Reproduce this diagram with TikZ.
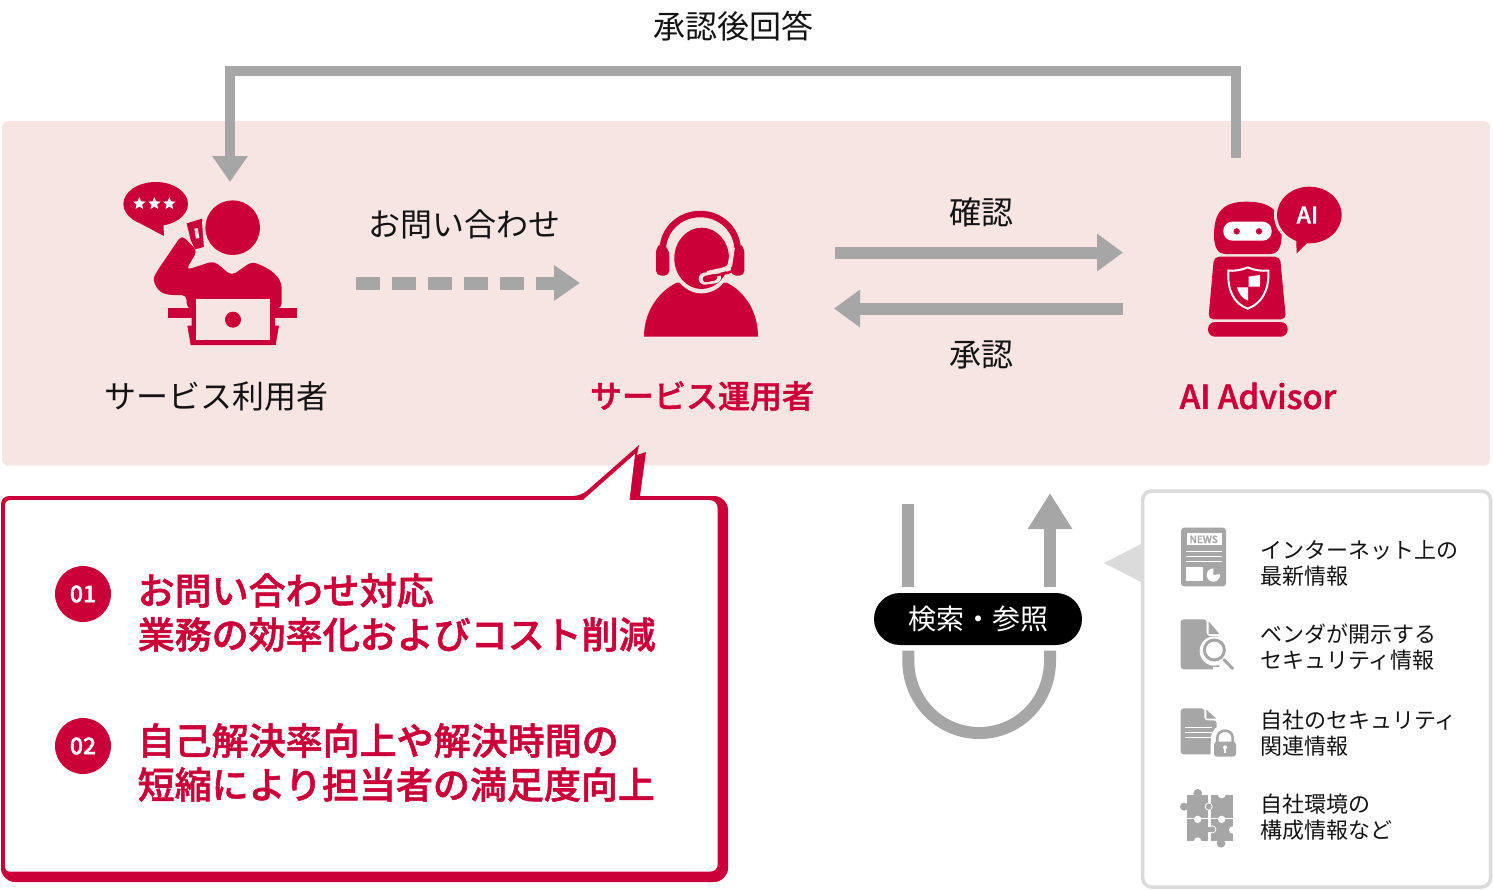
\documentclass[tikz,border=0pt]{standalone}
\usepackage{fontspec}
\setmainfont[BoldFont={Noto Sans CJK JP Medium},BoldFeatures={FakeBold=1.4}]{Noto Sans CJK JP}
\usetikzlibrary{arrows.meta,shapes.geometric}
\definecolor{brand}{HTML}{CC0039}
\definecolor{blush}{HTML}{F6E5E2}
\definecolor{steel}{HTML}{A6A6A6}
\definecolor{pale}{HTML}{DBDBDB}
\definecolor{ink}{HTML}{141414}
\tikzset{
  px/.style={x=0.33333pt,y=-0.33333pt,shift={(#1)}},
  label32/.style={inner sep=0pt,text=ink,font=\fontsize{32}{32}\selectfont},
  labelred/.style={inner sep=0pt,text=brand,font=\bfseries\fontsize{32}{32}\selectfont},
  pitch/.style={inner sep=0pt,anchor=west,align=left,text=brand,font=\bfseries\fontsize{37}{44}\selectfont},
  small/.style={inner sep=0pt,anchor=west,align=left,text=ink,font=\fontsize{22}{26}\selectfont},
  badge/.style={circle,fill=brand,inner sep=0pt,minimum size=56pt,text=white,font=\bfseries\fontsize{23}{23}\selectfont},
  flow/.style={draw=steel,line width=13pt},
  headL/.style={-{Triangle[length=26pt,width=36pt]}},
  redfill/.style={fill=brand,draw=none},
  pinkfill/.style={fill=blush,draw=none},
  grayfill/.style={fill=steel,draw=none},
  whitefill/.style={fill=white,draw=none},
}
\begin{document}
\begin{tikzpicture}[x=1pt,y=-1pt]
\useasboundingbox (0,0) rectangle (1493,889);
\fill[white] (0,0) rectangle (1493,889);
% pink band
\fill[blush,rounded corners=6pt] (2,121) rectangle (1490,465.5);

% coordinates for connectors
\coordinate (robotTop) at (1236,158);
\coordinate (cornerR) at (1236,71);
\coordinate (cornerL) at (230,71);
\coordinate (userTop) at (230,182);
\coordinate (askFrom) at (355.5,283);
\coordinate (askTo) at (580,283);
\coordinate (chkFrom) at (835,252.5);
\coordinate (chkTo) at (1123,252.5);
\coordinate (apvFrom) at (1123,308.5);
\coordinate (apvTo) at (834,308.5);
\coordinate (uLtop) at (908.3,504);
\coordinate (uLbot) at (908.3,586.7);
\coordinate (uRbot) at (1050,586.7);
\coordinate (uRtop) at (1050,493);
\coordinate (lowL) at (908.3,650.7);
\coordinate (lowR) at (1050,650.7);
\coordinate (lowMid) at (979.2,733);

\draw[steel,line width=10pt,-{Triangle[length=26pt,width=34pt]},miter limit=4] (robotTop) -- (cornerR) -- (cornerL) -- (userTop);
\draw[flow,-{Triangle[length=26pt,width=34pt]},dash pattern=on 24pt off 12pt] (askFrom) -- (askTo);
\draw[flow,line width=12pt,headL] (chkFrom) -- (chkTo);
\draw[flow,line width=12pt,headL] (apvFrom) -- (apvTo);

\node[label32] (reply) at (733,26) {承認後回答};
\node[label32] (ask) at (464,224) {お問い合わせ};
\node[label32] (check) at (981,212) {確認};
\node[label32] (approve) at (981,355) {承認};
\node[label32] (user) at (216,396) {サービス利用者};
\node[labelred] (oper) at (702,396) {サービス運用者};
\node[labelred,font=\bfseries\fontsize{33}{33}\selectfont] (advisor) at (1258,396) {AI Advisor};

% --- user icon
\begin{scope}[px={100pt,-160pt}]
\fill[redfill] (167,132) ellipse (97 and 66);
\fill[redfill] (120,190) -- (192,228) -- (190,190) -- cycle;
\foreach \n/\sx in {a/118,b/163,c/208}
  \node[star,star points=5,star point ratio=2.2,fill=white,inner sep=0pt,minimum size=13pt] (st\n) at (\sx,131) {};
% phone
\fill[redfill] (260,190) -- (306,176) -- (322,258) -- (285,268) -- (272,240) -- cycle;
\fill[pinkfill] (283,206) -- (293,204) -- (298,234) -- (288,236) -- cycle;
\fill[pinkfill] (306,184) -- (318,184) -- (328,262) -- (312,262) -- cycle;
\fill[redfill] (398,203) circle (82);
% body
\fill[redfill,rounded corners=5pt] (245,225) -- (292,272) -- (258,330) -- (342,303) -- (395,347) -- (455,305)
  .. controls (510,325) and (545,350) .. (545,400) -- (545,446) -- (260,446) -- (260,405) -- (205,405)
  .. controls (175,395) and (155,365) .. (170,335) -- cycle;
\fill[redfill] (205,445) rectangle (590,473);
\fill[redfill] (275,470) -- (275,497) -- (262,497) -- (272,555) -- (527,555) -- (537,497) -- (525,497) -- (525,470) -- cycle;
\fill[pinkfill] (288,418) rectangle (510,540);
\fill[redfill] (399,479) circle (24);
\end{scope}

% --- operator icon
\begin{scope}[px={620pt,-190pt}]
\fill[redfill] (72,440) .. controls (72,365) and (115,305) .. (170,278) -- (320,278) .. controls (375,305) and (414,365) .. (414,440) -- cycle;
\fill[pinkfill] (245,205) ellipse (92 and 105);
\fill[redfill] (245,205) ellipse (82 and 92);
\draw[brand,line width=6.5pt] (128,182) .. controls (128,120) and (178,72) .. (240.5,72) .. controls (303,72) and (353,120) .. (353,182);
\fill[redfill,rounded corners=5pt] (108,172) -- (126,160) -- (148,180) -- (148,257) -- (108,257) -- cycle;
\fill[redfill,rounded corners=5pt] (373,172) -- (355,160) -- (333,180) -- (333,257) -- (373,257) -- cycle;
\draw[blush,line width=4.5pt] (338,172) -- (330,225) .. controls (325,240) and (300,240) .. (262,250);
\draw[blush,line width=12pt,line cap=round] (254,266) -- (285,262);
\draw[brand,line width=2.5pt] (345,238) .. controls (325,252) and (300,252) .. (270,260);
\draw[brand,line width=6.5pt,line cap=round] (258,267) -- (282,262);
\end{scope}

% --- robot icon
\begin{scope}[px={1190pt,-170pt}]
\fill[redfill] (72,195) .. controls (72,125) and (100,95) .. (170,95) .. controls (245,95) and (275,125) .. (275,195)
  .. controls (275,235) and (262,252) .. (240,252) -- (105,252) .. controls (85,252) and (72,235) .. (72,195) -- cycle;
\fill[white,rounded corners=9pt] (100,155) rectangle (245,212);
\fill[redfill] (140,184) circle (9.5);
\fill[redfill] (207,184) circle (9.5);
\fill[redfill,rounded corners=5pt] (72,260) -- (270,260) -- (288,448) -- (55,448) -- cycle;
\fill[redfill,rounded corners=7pt] (54,456) rectangle (293,500);
\draw[white,line width=2pt] (173,292) .. controls (150,302) and (130,303) .. (115,302) .. controls (112,360) and (130,400) .. (173,416)
  .. controls (216,400) and (238,360) .. (235,302) .. controls (216,303) and (196,302) .. (173,292) -- cycle;
\fill[white] (176,320) -- (210,315) -- (210,350) -- (176,350) -- cycle;
\fill[white] (141,352) -- (174,352) -- (174,392) .. controls (155,385) and (146,370) .. (141,352) -- cycle;
\fill[pinkfill] (358,135) ellipse (106 and 94);
\fill[redfill] (358,135) ellipse (97 and 85);
\fill[redfill] (318,190) -- (320,250) -- (365,205) -- cycle;
\node[inner sep=0pt,text=white,font=\bfseries\fontsize{23}{23}\selectfont] (aiTag) at (352,135) {AI};
\end{scope}

% --- callout
\fill[brand,rounded corners=8pt] (1,882) -- (1,496) -- (581,496) [sharp corners] -- (639,445) -- (637,455) -- (646,452) -- (640,496) [rounded corners=14pt] -- (728,496) -- (728,882) -- cycle;
\fill[white] (5,506) .. controls (5,502) and (7,500) .. (11,500) -- (583,500) -- (635,454) -- (629.5,500) -- (708,500)
  .. controls (714,500) and (717.7,503) .. (717.7,509) -- (717.7,864) .. controls (717.7,869) and (714,871.7) .. (709,871.7) -- (11,871.7)
  .. controls (7,871.7) and (5,870) .. (5,866) -- cycle;
\node[badge] (b1) at (83,594) {01};
\node[badge] (b2) at (83,746) {02};
\node[pitch] (p1) at (137.5,612.5) {お問い合わせ対応\\業務の効率化およびコスト削減};
\node[pitch] (p2) at (137.5,762.5) {自己解決率向上や解決時間の\\短縮により担当者の満足度向上};

% --- search loop
\draw[steel,line width=12pt] (uLtop) -- (uLbot);
\draw[steel,line width=12pt,-{Triangle[length=36pt,width=42pt]}] (uRbot) -- (uRtop);
\draw[steel,line width=12pt] (lowL) -- (908.3,660.7) .. controls (908.3,701) and (939.8,733) .. (lowMid) .. controls (1018.6,733) and (1050,701) .. (1050,660.7) -- (lowR);
\node[fill=black,rounded corners=26pt,minimum width=208pt,minimum height=52pt,inner sep=0pt,text=white,font=\fontsize{28}{28}\selectfont] (search) at (978,619) {検索・参照};

% --- source panel
\fill[pale] (1104,563) -- (1143,543) -- (1143,583) -- cycle;
\draw[pale,line width=3.5pt,fill=white,rounded corners=9pt] (1142.7,491) rectangle (1490.5,887);
\node[small] (t1) at (1260,563) {インターネット上の\\最新情報};
\node[small] (t2) at (1260,647) {ベンダが開示する\\セキュリティ情報};
\node[small] (t3) at (1260,733) {自社のセキュリティ\\関連情報};
\node[small] (t4) at (1260,817) {自社環境の\\構成情報など};

% news icon + search doc
\begin{scope}[px={1160pt,-510pt}]
\fill[grayfill,rounded corners=3pt] (63,53) rectangle (198,229);
\fill[whitefill] (80,70) rectangle (185,105);
\node[inner sep=0pt,text=steel,font=\bfseries\fontsize{10}{10}\selectfont] (news) at (131,88) {NEWS};
\foreach \ly in {125,140,155} \draw[white,line width=1.2pt] (78,\ly) -- (185,\ly);
\fill[whitefill] (78,172) rectangle (130,213);
\fill[whitefill] (160,195) circle (20);
\fill[grayfill] (160,195) -- (160,172) -- (183,172) -- (183,192) -- cycle;

\fill[grayfill,rounded corners=3pt] (62,328) -- (140,328) -- (140,378) -- (178,378) -- (178,478) -- (62,478) -- cycle;
\fill[grayfill] (146,334) -- (178,372) -- (146,372) -- cycle;
\fill[whitefill] (163,423) circle (44);
\fill[whitefill] (160,470) rectangle (180,480);
\draw[steel,line width=3pt,fill=white] (163,420) circle (30);
\draw[steel,line width=3pt,line cap=round] (192,449) -- (218,476);

% lock doc
\begin{scope}[shift={(0,555)}]
\fill[grayfill,rounded corners=3pt] (62,40) -- (133,40) -- (133,76) -- (170,76) -- (170,178) -- (62,178) -- cycle;
\fill[grayfill] (139,44) -- (169,71) -- (139,71) -- cycle;
\foreach \ly in {97,112,127} \draw[white,line width=1.1pt] (75,\ly) -- (157,\ly);
\draw[white,line width=2pt,fill=white,rounded corners=3pt] (155,133) rectangle (235,192);
\fill[whitefill] (195,130) circle (42);
\draw[steel,line width=2.5pt] (172,142) -- (172,128) .. controls (172,100) and (218,100) .. (218,128) -- (218,142);
\fill[grayfill,rounded corners=3pt] (162,140) rectangle (228,185);
\fill[whitefill] (195,157) circle (6);
\fill[whitefill] (192.5,157) rectangle (197.5,173);
% puzzle
\fill[grayfill] (80,300) rectangle (145,368);
\fill[grayfill] (113,295) circle (13);
\fill[grayfill] (72,335) circle (12);
\fill[grayfill] (152,300) rectangle (218,368);
\fill[whitefill] (185,298) circle (12);
\fill[whitefill] (146,335) circle (12);
\fill[grayfill] (146,335) circle (9);
\fill[grayfill] (145,327) rectangle (153,343);
\fill[grayfill] (80,373) rectangle (145,437);
\fill[whitefill] (113,373) circle (11);
\fill[whitefill] (113,438) circle (11);
\fill[grayfill] (152,373) rectangle (218,437);
\fill[whitefill] (185,373) circle (11);
\fill[whitefill] (218,405) circle (11);
\fill[whitefill] (157,403) circle (12);
\fill[grayfill] (157,403) circle (9);
\fill[grayfill] (143,395) rectangle (152,411);
\fill[grayfill] (183,445) circle (13);
\end{scope}
\end{scope}
\end{tikzpicture}
\end{document}
